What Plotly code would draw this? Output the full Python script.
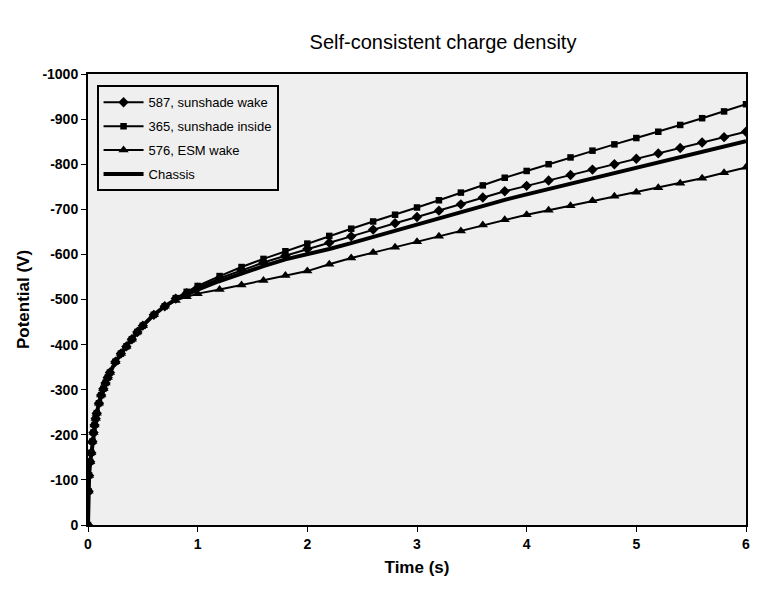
import plotly.graph_objects as go

# Time points (s)
t_early = [0, 0.005, 0.01, 0.02, 0.03, 0.04, 0.05, 0.06, 0.07, 0.08, 0.1, 0.12, 0.14, 0.16, 0.18,
           0.2, 0.25, 0.3, 0.35, 0.4, 0.45, 0.5, 0.6, 0.7]
v_early = [0, -75, -110, -140, -160, -185, -205, -222, -236, -248, -270, -288, -302, -315, -327,
           -338, -362, -380, -396, -412, -428, -442, -466, -485]

t_late = [0.8, 0.9, 1.0, 1.2, 1.4, 1.6, 1.8, 2.0, 2.2, 2.4, 2.6, 2.8, 3.0, 3.2, 3.4, 3.6, 3.8,
          4.0, 4.2, 4.4, 4.6, 4.8, 5.0, 5.2, 5.4, 5.6, 5.8, 6.0]

v587 = [-502, -514, -526, -547, -565, -582, -597, -612, -626, -640, -655, -669, -683, -697, -711,
        -726, -740, -752, -764, -776, -788, -800, -812, -824, -836, -848, -860, -872]
v365 = [-503, -517, -530, -552, -572, -590, -607, -624, -641, -657, -673, -688, -704, -720, -737,
        -753, -770, -785, -800, -815, -830, -844, -858, -872, -887, -902, -917, -933]
v576 = [-498, -506, -513, -522, -532, -542, -553, -563, -578, -592, -604, -616, -628, -640, -652,
        -665, -677, -688, -698, -708, -719, -729, -738, -748, -758, -769, -781, -793]
vchassis = [-500, -512, -522, -541, -558, -574, -589, -600, -612, -625, -639, -653, -667, -681, -695,
            -708, -721, -733, -745, -757, -769, -781, -792, -804, -816, -828, -840, -851]

names = ["587, sunshade wake", "365, sunshade inside", "576, ESM wake", "Chassis"]

x_ticks = [0, 1, 2, 3, 4, 5, 6]
y_ticks = [0, -100, -200, -300, -400, -500, -600, -700, -800, -900, -1000]

t_all = t_early + t_late

fig = go.Figure()
fig.add_trace(go.Scatter(x=t_all, y=v_early + v587, mode="lines+markers", name=names[0],
                         legendgroup="a",
                         line=dict(color="black", width=2),
                         marker=dict(symbol="diamond", size=8, color="black")))
fig.add_trace(go.Scatter(x=t_all, y=v_early + v365, mode="lines+markers", name=names[1],
                         legendgroup="b",
                         line=dict(color="black", width=2),
                         marker=dict(symbol="square", size=6.5, color="black")))
fig.add_trace(go.Scatter(x=t_all, y=v_early + v576, mode="lines+markers", name=names[2],
                         legendgroup="c",
                         line=dict(color="black", width=2),
                         marker=dict(symbol="triangle-up", size=9, color="black")))
fig.add_trace(go.Scatter(x=t_all, y=v_early + vchassis, mode="lines", name=names[3],
                         legendgroup="d",
                         line=dict(color="black", width=4)))

bg = "#efefef"
fig.update_layout(
    width=757, height=590,
    margin=dict(l=88, r=7, t=74, b=65),
    paper_bgcolor="white",
    plot_bgcolor=bg,
    font=dict(family="Liberation Sans, Arial, sans-serif", color="black", size=13),
    title=dict(text="Self-consistent charge density", x=443 / 757, xref="container", xanchor="center",
               y=1 - 42 / 590, yanchor="middle", font=dict(size=20)),
    showlegend=True,
    legend=dict(x=0.013, y=0.975, xanchor="left", yanchor="top", bgcolor=bg,
                bordercolor="black", borderwidth=2,
                font=dict(size=13, family="Liberation Sans, Arial, sans-serif"),
                tracegroupgap=4, itemwidth=40),
    xaxis=dict(range=[0, 6], tickvals=x_ticks, ticktext=["<b>%d</b>" % v for v in x_ticks],
               showgrid=False, zeroline=False,
               showline=True, linecolor="black", linewidth=2, mirror=True,
               ticks="outside", ticklen=5, tickcolor="black",
               tickfont=dict(size=14),
               title=dict(text="<b>Time (s)</b>", font=dict(size=17), standoff=10)),
    yaxis=dict(range=[0, -1000], tickvals=y_ticks, ticktext=["<b>%d</b>" % v for v in y_ticks],
               showgrid=False, zeroline=False,
               showline=True, linecolor="black", linewidth=2, mirror=True,
               ticks="outside", ticklen=5, tickcolor="black",
               tickfont=dict(size=14),
               title=dict(text="<b>Potential (V)</b>", font=dict(size=17), standoff=8)),
)

fig.write_html("out.html")
